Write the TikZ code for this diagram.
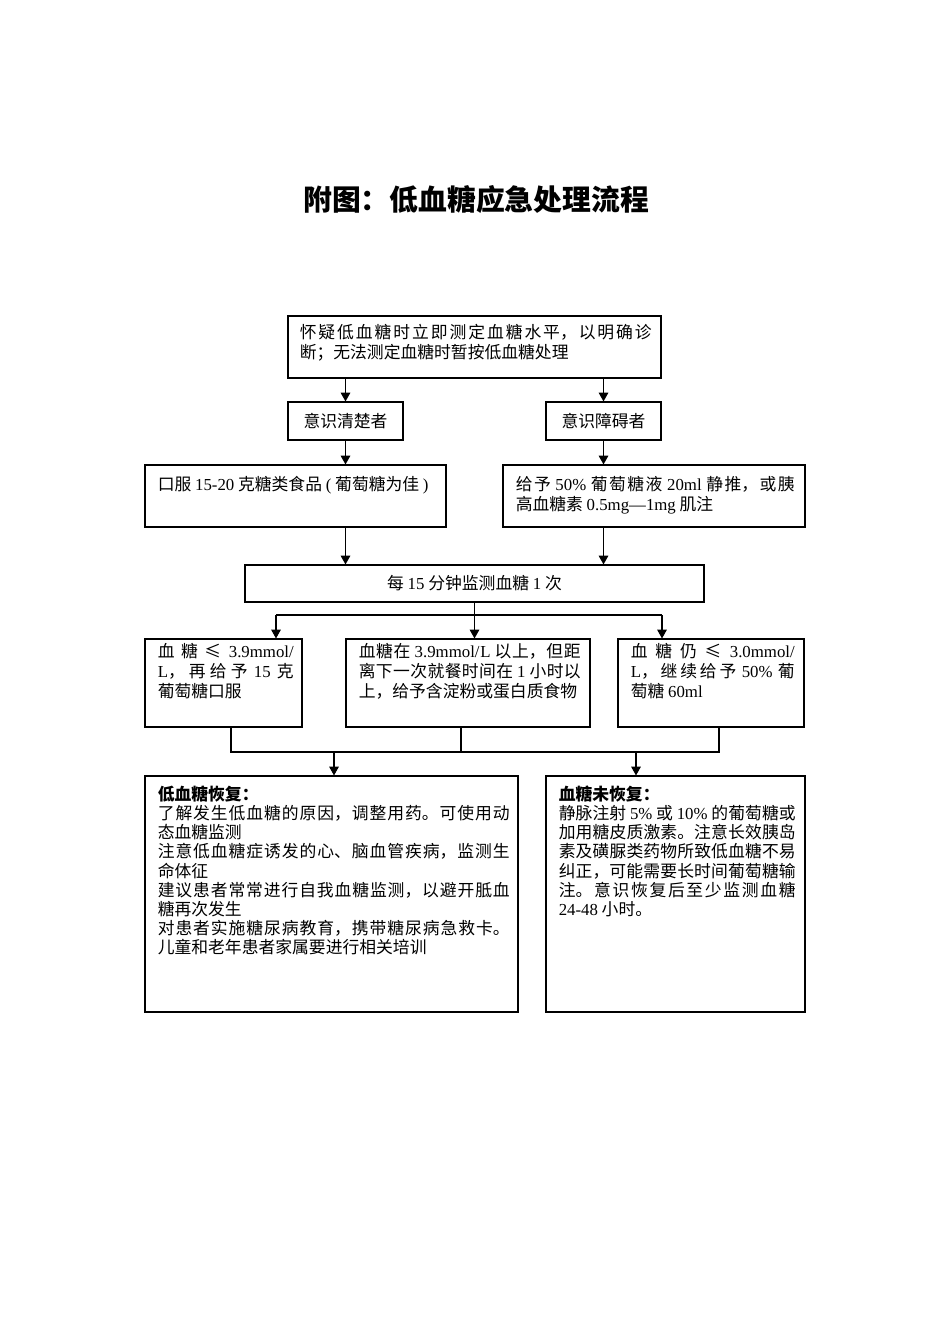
\documentclass[tikz,border=0pt]{standalone}
\usepackage{fontspec}
\setmainfont{Noto Sans CJK SC}
\newfontfamily\lat{Liberation Serif}
\usetikzlibrary{arrows.meta,fit}
\newcommand\tn[1]{{\lat #1}}
\XeTeXlinebreaklocale "zh"
\XeTeXlinebreakskip=0pt plus 2pt
\tolerance=10000
\hbadness=10000
\setlength\parindent{0pt}
\tikzset{
  box/.style={draw, line width=0.7pt, inner sep=0pt},
  txt/.style={anchor=north west, inner sep=0pt, align=justify, font=\fontsize{10.5pt}{12.5pt}\selectfont},
  txtb/.style={anchor=north west, inner sep=0pt, align=justify, font=\fontsize{10.5pt}{12pt}\selectfont},
  ctxt/.style={inner sep=0pt, font=\fontsize{10.5pt}{12.5pt}\selectfont},
  arr/.style={line width=0.7pt, -{Triangle[length=5.5pt,width=6pt]}},
  ln/.style={line width=0.7pt}
}
\begin{document}
\begin{tikzpicture}[x=0.625pt, y=-0.625pt]
\path[use as bounding box] (0,0) rectangle (950,1344);

\node[font=\fontsize{18pt}{20pt}\selectfont\bfseries] (title) at (476,199) {附图：低血糖应急处理流程};

% boxes
\node[box, fit={(288,316) (661,378)}] (b1) {};
\node[box, fit={(288,402) (403,440)}] (b2) {};
\node[box, fit={(546,402) (661,440)}] (b3) {};
\node[box, fit={(145,465) (446,527)}] (b4) {};
\node[box, fit={(503,465) (805,527)}] (b5) {};
\node[box, fit={(245,565) (704,602)}] (b6) {};
\node[box, fit={(145,639) (302,727)}] (b7) {};
\node[box, fit={(346,639) (590,727)}] (b8) {};
\node[box, fit={(618,639) (804,727)}] (b9) {};
\node[box, fit={(145,776) (518,1012)}] (b10) {};
\node[box, fit={(546,776) (805,1012)}] (b11) {};

% texts
\node[txt, text width=352*0.625pt] (t1) at ([shift={(12,9)}]b1.north west)
  {怀疑低血糖时立即测定血糖水平，以明确诊\linebreak 断；无法测定血糖时暂按低血糖处理};
\node[ctxt] (t2) at (b2.center) {意识清楚者};
\node[ctxt] (t3) at (b3.center) {意识障碍者};
\node[txt, text width=282*0.625pt] (t4) at ([shift={(13,12)}]b4.north west)
  {口服 \tn{15-20} 克糖类食品 \tn{(} 葡萄糖为佳 \tn{)}};
\node[txt, text width=279*0.625pt] (t5) at ([shift={(13,12)}]b5.north west)
  {给予 \tn{50\%} 葡萄糖液 \tn{20ml} 静推，或胰\linebreak 高血糖素 \tn{0.5mg—1mg} 肌注};
\node[ctxt] (t6) at (b6.center) {每 \tn{15} 分钟监测血糖 \tn{1} 次};
\node[txt, text width=136*0.625pt] (t7) at ([shift={(13,5)}]b7.north west)
  {血糖≤ \tn{3.9mmol/}\linebreak \tn{L}，再给予 \tn{15} 克\linebreak 葡萄糖口服};
\node[txt, text width=222*0.625pt] (t8) at ([shift={(13,5)}]b8.north west)
  {血糖在 \tn{3.9mmol/L} 以上，但距\linebreak 离下一次就餐时间在 \tn{1} 小时以\linebreak 上，给予含淀粉或蛋白质食物};
\node[txt, text width=164*0.625pt] (t9) at ([shift={(13,5)}]b9.north west)
  {血糖仍≤ \tn{3.0mmol/}\linebreak \tn{L}，继续给予 \tn{50\%} 葡\linebreak 萄糖 \tn{60ml}};
\node[txtb, text width=352*0.625pt] (t10) at ([shift={(13,10)}]b10.north west)
  {\textbf{低血糖恢复：}\par
   了解发生低血糖的原因，调整用药。可使用动\linebreak 态血糖监测\par
   注意低血糖症诱发的心、脑血管疾病，监测生\linebreak 命体征\par
   建议患者常常进行自我血糖监测，以避开胝血\linebreak 糖再次发生\par
   对患者实施糖尿病教育，携带糖尿病急救卡。\linebreak 儿童和老年患者家属要进行相关培训};
\node[txtb, text width=237*0.625pt] (t11) at ([shift={(13,10)}]b11.north west)
  {\textbf{血糖未恢复：}\par
   静脉注射 \tn{5\%} 或 \tn{10\%} 的葡萄糖或\linebreak 加用糖皮质激素。注意长效胰岛\linebreak 素及磺脲类药物所致低血糖不易\linebreak 纠正，可能需要长时间葡萄糖输\linebreak 注。意识恢复后至少监测血糖\linebreak \tn{24-48} 小时。};

% connectors
\draw[arr] (b1.south -| b2.north) -- (b2.north);
\draw[arr] (b1.south -| b3.north) -- (b3.north);
\draw[arr] (b2.south) -- (b2.south |- b4.north);
\draw[arr] (b3.south) -- (b3.south |- b5.north);
\draw[arr] (b4.south -| b2.south) -- (b6.north -| b2.south);
\draw[arr] (b5.south -| b3.south) -- (b6.north -| b3.south);

\coordinate (jl) at (276,615);
\coordinate (jr) at (662,615);
\draw[ln] (jl) -- (jr);
\draw[arr] (b6.south) -- (b6.south |- b8.north);
\draw[arr] (jl) -- (jl |- b7.north);
\draw[arr] (jr) -- (jr |- b9.north);

\coordinate (ml) at (231,752);
\coordinate (mc) at (461,752);
\coordinate (mr) at (719,752);
\draw[ln] (ml |- b7.south) -- (ml) -- (mr) -- (mr |- b9.south);
\draw[ln] (mc |- b8.south) -- (mc);
\coordinate (dl) at (334,752);
\coordinate (dr) at (636,752);
\draw[arr] (dl) -- (dl |- b10.north);
\draw[arr] (dr) -- (dr |- b11.north);
\end{tikzpicture}
\end{document}
